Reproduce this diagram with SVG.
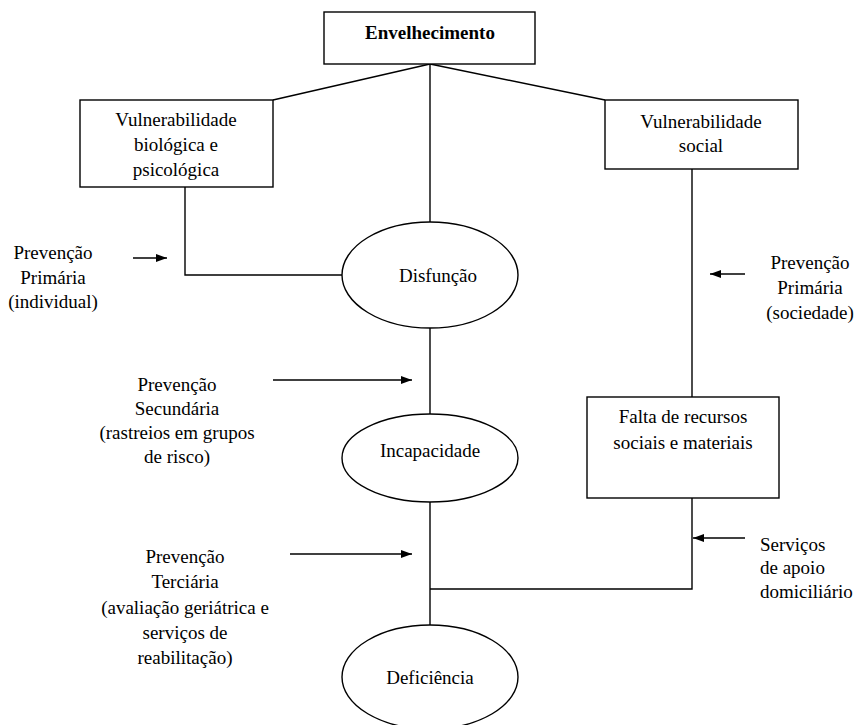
<svg xmlns="http://www.w3.org/2000/svg" width="860" height="725" viewBox="0 0 860 725">
<defs>
<marker id="ah" viewBox="0 0 11 8" refX="11" refY="4" markerWidth="11" markerHeight="8" markerUnits="userSpaceOnUse" orient="auto">
<path d="M0,0 L11,4 L0,8 z" fill="#000"/>
</marker>
<style>
.box{fill:#fff;stroke:#000;stroke-width:1.4}
.ell{fill:#fff;stroke:#000;stroke-width:1.4}
.ln{fill:none;stroke:#000;stroke-width:1.4}
.ar{fill:none;stroke:#000;stroke-width:1.6;marker-end:url(#ah)}
text{font-family:"Liberation Serif","Times New Roman",serif;font-size:19px;fill:#000}
.c{text-anchor:middle}
.b{font-weight:bold}
</style>
</defs>
<rect width="860" height="725" fill="#fff"/>
<g id="connectors">
<line class="ln" x1="430" y1="64" x2="273" y2="100"/>
<line class="ln" x1="430" y1="64" x2="605" y2="100"/>
<line class="ln" x1="430" y1="64" x2="430" y2="222"/>
<polyline class="ln" points="185,187 185,275 342,275"/>
<line class="ln" x1="430" y1="328" x2="430" y2="414"/>
<line class="ln" x1="430" y1="502" x2="430" y2="625"/>
<line class="ln" x1="692" y1="169" x2="692" y2="397"/>
<polyline class="ln" points="692,498 692,589 430,589"/>
<line class="ar" x1="133" y1="258" x2="167" y2="258"/>
<line class="ar" x1="745" y1="274" x2="710" y2="274"/>
<line class="ar" x1="273" y1="380" x2="412" y2="380"/>
<line class="ar" x1="290" y1="554" x2="412" y2="554"/>
<line class="ar" x1="745" y1="538" x2="693" y2="538"/>
</g>
<g id="envelhecimento">
<rect class="box" x="324" y="12" width="211" height="52"/>
<text class="c b" x="430" y="39">Envelhecimento</text>
</g>
<g id="vuln-bio">
<rect class="box" x="80" y="100" width="193" height="87"/>
<text class="c" x="176" y="126">Vulnerabilidade</text>
<text class="c" x="176" y="151">biológica e</text>
<text class="c" x="176" y="176">psicológica</text>
</g>
<g id="vuln-social">
<rect class="box" x="605" y="100" width="193" height="69"/>
<text class="c" x="701" y="128">Vulnerabilidade</text>
<text class="c" x="701" y="152">social</text>
</g>
<g id="disfuncao">
<ellipse class="ell" cx="430" cy="275" rx="88" ry="53"/>
<text class="c" x="438" y="282">Disfunção</text>
</g>
<g id="incapacidade">
<ellipse class="ell" cx="430" cy="458" rx="88" ry="44"/>
<text class="c" x="430" y="457">Incapacidade</text>
</g>
<g id="deficiencia">
<ellipse class="ell" cx="430" cy="677" rx="88" ry="52"/>
<text class="c" x="430" y="684">Deficiência</text>
</g>
<g id="falta">
<rect class="box" x="587" y="397" width="192" height="101"/>
<text class="c" x="683" y="423">Falta de recursos</text>
<text class="c" x="683" y="449">sociais e materiais</text>
</g>
<g id="lbl-primaria-ind">
<text class="c" x="53" y="259">Prevenção</text>
<text class="c" x="53" y="284">Primária</text>
<text class="c" x="53" y="308">(individual)</text>
</g>
<g id="lbl-primaria-soc">
<text class="c" x="810" y="269">Prevenção</text>
<text class="c" x="810" y="294">Primária</text>
<text class="c" x="810" y="319">(sociedade)</text>
</g>
<g id="lbl-secundaria">
<text class="c" x="177" y="391">Prevenção</text>
<text class="c" x="177" y="415">Secundária</text>
<text class="c" x="177" y="439">(rastreios em grupos</text>
<text class="c" x="177" y="463">de risco)</text>
</g>
<g id="lbl-terciaria">
<text class="c" x="185" y="563">Prevenção</text>
<text class="c" x="185" y="588">Terciária</text>
<text class="c" x="185" y="614">(avaliação geriátrica e</text>
<text class="c" x="185" y="639">serviços de</text>
<text class="c" x="185" y="664">reabilitação)</text>
</g>
<g id="lbl-servicos">
<text x="760" y="551">Serviços</text>
<text x="760" y="574">de apoio</text>
<text x="760" y="598">domiciliário</text>
</g>
</svg>
